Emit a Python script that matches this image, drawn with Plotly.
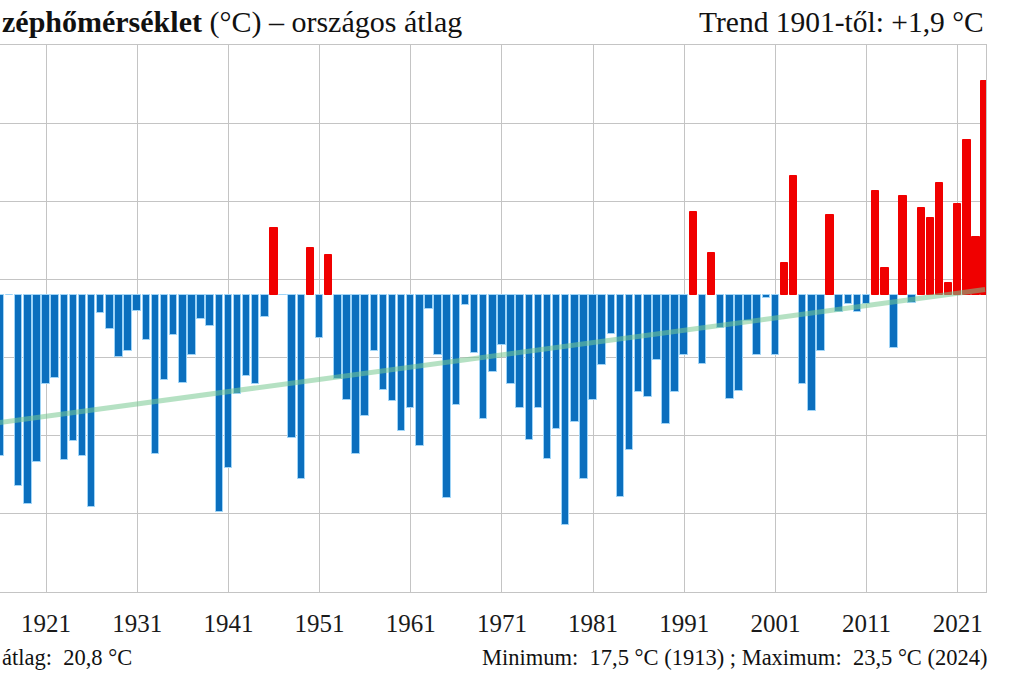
import plotly.graph_objects as go

# Summer mean temperature (°C), national average, by year (visible part of chart)
years = list(range(1916, 2025))
temps = [
    18.74, 20.80, 18.36, 18.12, 18.66, 19.66, 19.74, 18.69, 18.93, 18.74,  # 1916-1925
    18.09, 20.57, 20.36, 20.01, 20.09, 20.60, 20.23, 18.76, 19.71, 20.29,  # 1926-1935
    19.68, 20.03, 20.50, 20.41, 18.03, 18.59, 19.53, 19.77, 19.66, 20.52,  # 1936-1945
    21.66, 20.80, 18.97, 18.44, 21.40, 20.25, 21.31, 19.73, 19.46, 18.77,  # 1946-1955
    19.25, 20.09, 19.59, 19.44, 19.06, 19.36, 18.87, 20.62, 20.03, 18.20,  # 1956-1965
    19.39, 20.67, 20.06, 19.21, 19.82, 20.16, 19.66, 19.36, 18.94, 19.35,  # 1966-1975
    18.70, 19.09, 17.86, 19.17, 18.44, 19.46, 19.90, 20.30, 18.22, 18.82,  # 1976-1985
    19.56, 19.50, 19.97, 19.15, 19.56, 20.03, 21.86, 19.92, 21.34, 20.38,  # 1986-1995
    19.47, 19.57, 20.47, 20.03, 20.76, 20.03, 21.21, 22.32, 19.66, 19.32,  # 1996-2005
    20.08, 21.83, 20.58, 20.68, 20.58, 20.69, 22.13, 21.14, 20.12, 22.07,  # 2006-2015
    20.70, 21.91, 21.79, 22.24, 20.96, 21.96, 22.78, 21.54, 23.54,         # 2016-2024
]
mean_temp = 20.8
trend_years = [1901, 2024]
trend_vals = [18.935, 20.87]
tick_years = [1921, 1931, 1941, 1951, 1961, 1971, 1981, 1991, 2001, 2011, 2021]

title_left = "<b>zéphőmérséklet</b> (°C) – országos átlag"
title_right = "Trend 1901-től: +1,9 °C"
foot_left = "átlag:\u00a0\u00a020,8 °C"
foot_right = "Minimum:\u00a0\u00a017,5 °C (1913) ; Maximum:\u00a0\u00a023,5 °C (2024)"

BLUE = "#0B6FBE"
RED = "#F00000"
FONT = "Liberation Serif"

W, H = 1020, 680
L, R, T, B = 0, 34, 45, 88
pw, ph = W - L - R, H - T - B

def px(x):
    return (x - L) / pw

def py(y):
    return (H - B - y) / ph

colors = [RED if t > mean_temp else BLUE for t in temps]
edge = ["#F00000" if t > mean_temp else "#9FD4F7" for t in temps]

fig = go.Figure()
fig.add_trace(go.Bar(
    x=years,
    y=[t - mean_temp for t in temps],
    base=mean_temp,
    width=0.82,
    marker=dict(color=colors, line=dict(color=edge, width=1)),
    showlegend=False,
    hoverinfo="skip",
))
fig.add_trace(go.Scatter(
    x=trend_years, y=trend_vals, mode="lines",
    line=dict(color="rgba(120,200,145,0.55)", width=5),
    showlegend=False,
    hoverinfo="skip",
))

grid = "#C4C4C4"
fig.update_layout(
    width=W, height=H,
    margin=dict(l=L, r=R, t=T, b=B, pad=0),
    plot_bgcolor="white", paper_bgcolor="white",
    bargap=0,
    font=dict(family=FONT, color="#1a1a1a"),
    xaxis=dict(
        range=[1915.95, 2024.1], tickvals=tick_years,
        showgrid=True, gridcolor=grid, gridwidth=1,
        showline=True, linecolor=grid, mirror=True,
        ticks="", ticklabelstandoff=9,
        tickfont=dict(family=FONT, size=25, color="#1a1a1a"),
        zeroline=False,
    ),
    yaxis=dict(
        range=[17, 24], dtick=1,
        showgrid=True, gridcolor=grid, gridwidth=1,
        showline=True, linecolor=grid, mirror=True,
        showticklabels=False, ticks="", zeroline=False,
    ),
    annotations=[
        dict(text=title_left, x=px(0), y=py(22), xref="paper", yref="paper",
             xanchor="left", yanchor="middle", showarrow=False,
             font=dict(family=FONT, size=30, color="#111")),
        dict(text=title_right, x=px(986), y=py(22), xref="paper", yref="paper",
             xanchor="right", yanchor="middle", showarrow=False,
             font=dict(family=FONT, size=29.5, color="#111")),
        dict(text=foot_left, x=px(0), y=py(657), xref="paper", yref="paper",
             xanchor="left", yanchor="middle", showarrow=False,
             font=dict(family=FONT, size=22.5, color="#111")),
        dict(text=foot_right, x=px(990), y=py(657), xref="paper", yref="paper",
             xanchor="right", yanchor="middle", showarrow=False,
             font=dict(family=FONT, size=22.5, color="#111")),
    ],
)

fig.write_html("out.html", config={"displayModeBar": False},
               post_script="document.body.style.margin='0';")
